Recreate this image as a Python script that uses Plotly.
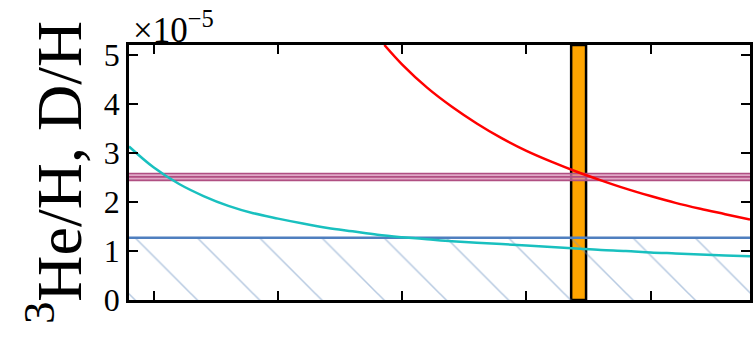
import plotly.graph_objects as go

# ---- data (x in arbitrary units, y in units of 1e-5) ----
cyan_x = [0.0, 0.2, 0.4, 0.6, 0.8, 1.0, 1.2, 1.4, 1.6, 1.8, 2.0, 2.2, 2.4, 2.6, 2.8, 3.0,
          3.2, 3.4, 3.6, 3.8, 4.0, 4.2, 4.4, 4.6, 4.8, 5.0]
cyan_y = [3.13, 2.70, 2.37, 2.12, 1.92, 1.77, 1.66, 1.56, 1.47, 1.40, 1.33, 1.28, 1.24, 1.20, 1.17, 1.14,
          1.11, 1.08, 1.05, 1.02, 1.00, 0.97, 0.95, 0.93, 0.91, 0.89]

red_x = [2.056, 2.2, 2.4, 2.6, 2.8, 3.0, 3.2, 3.4, 3.6, 3.8, 4.0, 4.2, 4.4, 4.6, 4.8, 5.0]
red_y = [5.2, 4.80, 4.33, 3.94, 3.60, 3.30, 3.04, 2.82, 2.62, 2.44, 2.27, 2.12, 1.98, 1.86, 1.75, 1.64]

dh_band = [2.44, 2.51, 2.58]      # lower, central, upper D/H
he3_limit = 1.27                  # 3He/H upper limit
orange_band = [3.56, 3.68]        # x-range of vertical band
x_range = [0, 5]
y_range = [0, 5.2]
y_ticks = [0, 1, 2, 3, 4, 5]
x_ticks = [0.2, 1.2, 2.2, 3.2, 4.2]

SERIF = "Liberation Serif"

fig = go.Figure()

# hatched region below the 3He limit
fig.add_trace(go.Scatter(
    x=x_range, y=[he3_limit, he3_limit], mode="lines", line=dict(width=0),
    fill="tozeroy", fillcolor="rgba(0,0,0,0)",
    fillpattern=dict(shape="\\", fgcolor="#6f95c4", bgcolor="rgba(0,0,0,0)",
                     size=44, solidity=0.035, fillmode="overlay"),
    hoverinfo="skip", showlegend=False))

# D/H band
fig.add_trace(go.Scatter(x=x_range, y=[dh_band[0]] * 2, mode="lines",
                         line=dict(color="#b04f82", width=1.6), showlegend=False))
fig.add_trace(go.Scatter(x=x_range, y=[dh_band[2]] * 2, mode="lines",
                         line=dict(color="#b04f82", width=1.6),
                         fill="tonexty", fillcolor="rgba(215,140,180,0.75)", showlegend=False))
fig.add_trace(go.Scatter(x=x_range, y=[dh_band[1]] * 2, mode="lines",
                         line=dict(color="#b04f82", width=1.6), showlegend=False))

# 3He limit line
fig.add_trace(go.Scatter(x=x_range, y=[he3_limit, he3_limit], mode="lines",
                         line=dict(color="#4f7fbf", width=2.5), showlegend=False))

# curves
fig.add_trace(go.Scatter(x=red_x, y=red_y, mode="lines",
                         line=dict(color="#ff0000", width=2.5, shape="spline"), showlegend=False))
fig.add_trace(go.Scatter(x=cyan_x, y=cyan_y, mode="lines",
                         line=dict(color="#19c0bf", width=2.5, shape="spline"), showlegend=False))

# orange vertical band
fig.add_shape(type="rect", xref="x", yref="paper", x0=orange_band[0], x1=orange_band[1], y0=0, y1=1,
              fillcolor="#ffa500", line=dict(color="black", width=2.5), layer="below")

axis_common = dict(showline=True, linecolor="black", linewidth=2.5, mirror="allticks",
                   ticks="inside", ticklen=9, tickwidth=1.5, tickcolor="black",
                   showgrid=False, zeroline=False)

fig.update_xaxes(range=x_range, tickvals=x_ticks, showticklabels=False, **axis_common)
fig.update_yaxes(range=y_range, tickvals=y_ticks, ticktext=[str(v) for v in y_ticks],
                 tickfont=dict(family=SERIF, size=32, color="black"),
                 title=dict(text="<sup>3</sup>He/H, D/H", font=dict(family=SERIF, size=64, color="black"),
                            standoff=2),
                 **axis_common)

fig.add_annotation(xref="paper", yref="paper", x=0, y=1, xanchor="left", yanchor="bottom",
                   text="×10<sup>−5</sup>", showarrow=False, xshift=2, yshift=-7,
                   font=dict(family=SERIF, size=35, color="black"))

fig.update_layout(width=756, height=340, margin=dict(l=129, r=3, t=45, b=40),
                  plot_bgcolor="white", paper_bgcolor="white")

fig.write_html("out.html")
